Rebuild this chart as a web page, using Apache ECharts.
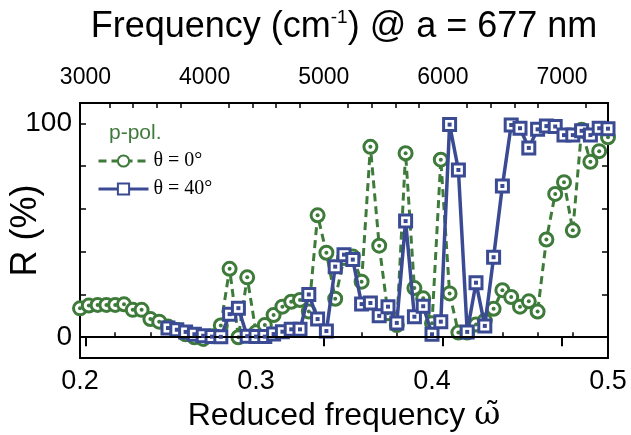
<!DOCTYPE html>
<html><head><meta charset="utf-8">
<script src="https://cdn.jsdelivr.net/npm/echarts@6/dist/echarts.min.js"></script>
<style>html,body{margin:0;padding:0;background:#fff}#c{width:631px;height:435px}</style>
</head><body><div id="c"></div>
<script>
// Reduced frequency values for theta = 0 deg (green circles)
const omega0 = [0.200,0.205,0.210,0.215,0.220,0.225,0.230,0.235,0.240,0.245,
  0.250,0.255,0.260,0.265,0.270,0.275,0.280,0.285,0.290,0.295,
  0.300,0.305,0.310,0.315,0.320,0.325,0.330,0.335,0.340,0.345,
  0.350,0.355,0.360,0.365,0.370,0.375,0.380,0.385,0.390,0.395,
  0.400,0.405,0.410,0.415,0.420,0.425,0.430,0.435,0.440,0.445,
  0.450,0.455,0.460,0.465,0.470,0.475,0.480,0.485,0.490,0.495,0.500];
const r0 = [13.5,14.8,15.1,15.1,15.1,15.4,12.8,12.8,8.5,7.3,
  5.0,3.4,1.4,0.0,-0.8,0.5,5.5,32.0,0.0,28.0,
  2.3,5.7,10.4,14.3,16.6,17.4,12.0,57.0,39.5,18.0,
  37.0,37.7,26.0,89.0,42.8,11.2,5.7,86.0,23.0,18.2,
  6.5,83.0,20.5,2.2,2.2,6.0,7.8,13.3,22.0,18.8,
  14.3,16.8,12.0,45.7,67.0,72.5,50.0,97.0,82.0,87.0,93.5];
// Reduced frequency values for theta = 40 deg (blue squares)
const omega40 = [0.250,0.255,0.260,0.265,0.270,0.275,0.280,0.285,0.290,0.295,
  0.300,0.305,0.310,0.315,0.320,0.325,0.330,0.335,0.340,0.345,
  0.350,0.355,0.360,0.365,0.370,0.375,0.380,0.385,0.390,0.395,
  0.400,0.405,0.410,0.415,0.420,0.425,0.430,0.435,0.440,0.445,
  0.450,0.455,0.460,0.465,0.470,0.475,0.480,0.485,0.490,0.495,0.500];
const r40 = [4.3,3.5,2.5,1.4,0.7,0.3,0.2,10.8,13.6,0.5,
  0.3,0.3,1.5,2.6,3.7,3.7,20.0,8.5,2.9,33.0,
  38.6,36.3,15.5,16.0,10.0,14.3,6.7,54.3,9.6,14.5,
  1.4,7.3,99.4,78.2,2.5,25.5,5.3,37.4,70.7,99.2,
  97.7,88.5,97.2,98.7,98.5,94.5,94.5,96.5,94.5,97.7,97.5];

const seriesNames = ['θ = 0°', 'θ = 40°'];
const topTicks = [3000, 4000, 5000, 6000, 7000];
const topMinorTicks = [3200,3400,3600,3800,4200,4400,4600,4800,5200,5400,5600,5800,6200,6400,6600,6800,7200];
const yTicks = [0, 20, 40, 60, 80, 100];
const yLabels = [0, 100];
const latticeNm = 677;
const cmPerOmega = 1e7 / latticeNm;

const GREEN = '#3e7b3a';
const BLUE = '#3a4b94';
const FONT = 'Liberation Sans, Arial, sans-serif';
const yMin = -9.7, yMax = 109.5;

const pts0 = omega0.map((w, i) => [w, r0[i]]);
const pts40 = omega40.map((w, i) => [w, r40[i]]);

const chart = echarts.init(document.getElementById('c'));
chart.setOption({
  animation: false,
  backgroundColor: '#fff',
  title: {
    text: 'p-pol.', left: 104, top: 118,
    textStyle: { color: GREEN, fontSize: 21, fontWeight: 'normal', fontFamily: FONT }
  },
  legend: {
    orient: 'vertical', left: 92, top: 146, itemWidth: 50, itemHeight: 14, itemGap: 8,
    data: seriesNames,
    lineStyle: { width: 3 },
    textStyle: { fontFamily: 'Liberation Serif, serif', fontSize: 20, color: '#000' }
  },
  grid: { left: 80, right: 23, top: 103, bottom: 77, show: true, borderColor: '#000', borderWidth: 2,
    containLabel: false, outerBoundsMode: 'none' },
  xAxis: [
    {
      type: 'value', position: 'bottom', min: 0.2, max: 0.5, interval: 0.1,
      axisLine: { show: false },
      axisTick: { inside: true, length: 9, lineStyle: { color: '#000', width: 2 } },
      minorTick: { show: true, splitNumber: 5, length: 5, lineStyle: { color: '#000', width: 1.5 } },
      splitLine: { show: false },
      axisLabel: { fontSize: 27, color: '#000', fontFamily: FONT, margin: 10, formatter: v => v.toFixed(1) },
      name: 'Reduced frequency {w|ω\u0303}', nameLocation: 'middle', nameGap: 39,
      nameTextStyle: { fontSize: 32, color: '#000', fontFamily: FONT,
        rich: { w: { fontSize: 32, fontFamily: 'DejaVu Serif, serif', color: '#000' } } }
    },
    {
      type: 'value', position: 'top', min: 0.2 * cmPerOmega, max: 0.5 * cmPerOmega,
      axisLine: { show: false },
      axisTick: { inside: true, length: 9, customValues: topTicks, lineStyle: { color: '#000', width: 2 } },
      splitLine: { show: false },
      axisLabel: { customValues: topTicks, fontSize: 23, color: '#000', fontFamily: FONT, margin: 14,
        formatter: v => String(Math.round(v)) },
      name: 'Frequency (cm{sup|-1}) @ a = 677 nm', nameLocation: 'middle', nameGap: 57,
      nameTextStyle: { fontSize: 36, color: '#000', fontFamily: FONT, lineHeight: 38,
        rich: { sup: { fontSize: 19, verticalAlign: 'top', color: '#000', fontFamily: FONT, lineHeight: 38 } } }
    },
    {
      type: 'value', position: 'top', min: 0.2 * cmPerOmega, max: 0.5 * cmPerOmega,
      axisLine: { show: false },
      axisTick: { inside: true, length: 5, customValues: topMinorTicks, lineStyle: { color: '#000', width: 1.5 } },
      splitLine: { show: false },
      axisLabel: { show: false }
    }
  ],
  yAxis: [
    {
      type: 'value', position: 'left', min: yMin, max: yMax,
      axisLine: { show: false },
      axisTick: { inside: true, length: 6, customValues: yTicks, lineStyle: { color: '#000', width: 1.5 } },
      splitLine: { show: false },
      axisLabel: { customValues: yLabels, fontSize: 28, color: '#000', fontFamily: FONT, margin: 8 },
      name: 'R (%)', nameLocation: 'middle', nameGap: 36, nameMoveOverlap: false,
      nameTextStyle: { fontSize: 36, color: '#000', fontFamily: FONT }
    },
    {
      type: 'value', position: 'right', min: yMin, max: yMax,
      axisLine: { show: false },
      axisTick: { inside: true, length: 6, customValues: yTicks, lineStyle: { color: '#000', width: 1.5 } },
      splitLine: { show: false },
      axisLabel: { show: false }
    }
  ],
  series: [
    {
      name: seriesNames[0], type: 'line', data: pts0, z: 2,
      symbol: 'circle', symbolSize: 13,
      itemStyle: { color: '#fff', borderColor: GREEN, borderWidth: 3 },
      lineStyle: { color: GREEN, width: 3, type: [8, 5] },
      markLine: { silent: true, symbol: 'none', label: { show: false },
        lineStyle: { color: '#000', width: 2, type: 'solid' }, data: [{ yAxis: 0 }] }
    },
    {
      type: 'line', data: pts0, z: 3, silent: true,
      symbol: 'circle', symbolSize: 4,
      itemStyle: { color: GREEN }, lineStyle: { opacity: 0 }
    },
    {
      name: seriesNames[1], type: 'line', data: pts40, z: 4,
      symbol: 'rect', symbolSize: 12,
      itemStyle: { color: '#fff', borderColor: BLUE, borderWidth: 3 },
      lineStyle: { color: BLUE, width: 3.5 }
    },
    {
      type: 'line', data: pts40, z: 5, silent: true,
      symbol: 'rect', symbolSize: 4,
      itemStyle: { color: BLUE }, lineStyle: { opacity: 0 }
    }
  ]
});
</script></body></html>
